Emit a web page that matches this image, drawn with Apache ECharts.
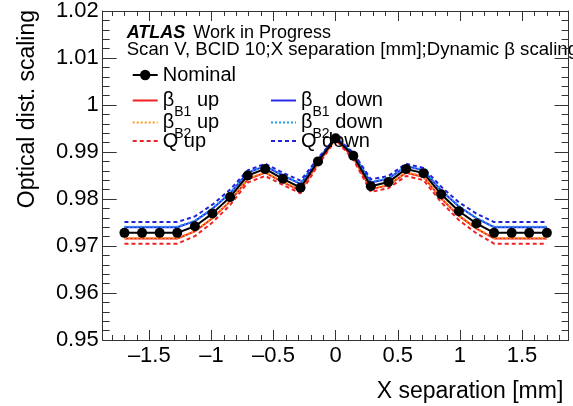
<!DOCTYPE html>
<html>
<head>
<meta charset="utf-8">
<script src="https://cdn.jsdelivr.net/npm/echarts@6/dist/echarts.min.js"></script>
<style>
html,body{margin:0;padding:0;background:#fff;}
#c{width:573px;height:406px;}
</style>
</head>
<body>
<div id="c"></div>
<script>
// X separation [mm] of the scan points
const xs = [-1.700,-1.558,-1.417,-1.275,-1.133,-0.992,-0.850,-0.708,-0.567,-0.425,-0.283,-0.142,0,
            0.142,0.283,0.425,0.567,0.708,0.850,0.992,1.133,1.275,1.417,1.558,1.700];
const nominal = [0.9728,0.9728,0.9728,0.9728,0.9742,0.9769,0.9804,0.9850,0.9864,0.9843,0.9824,0.9880,0.9929,
                 0.9892,0.9827,0.9836,0.9864,0.9855,0.9810,0.9774,0.9748,0.9728,0.9728,0.9728,0.9728];
const betaB1Up = [0.9716,0.9716,0.9716,0.9716,0.9731,0.9759,0.9795,0.9842,0.9856,0.9836,0.9818,0.9876,0.9928,
                  0.9888,0.9821,0.9829,0.9856,0.9847,0.9801,0.9764,0.9737,0.9716,0.9716,0.9716,0.9716];
const betaB1Down = [0.9740,0.9740,0.9740,0.9740,0.9753,0.9779,0.9812,0.9856,0.9870,0.9850,0.9832,0.9884,0.9930,
                    0.9896,0.9835,0.9843,0.9870,0.9861,0.9818,0.9784,0.9759,0.9740,0.9740,0.9740,0.9740];
const betaB2Up = [0.9717,0.9717,0.9717,0.9717,0.9732,0.9760,0.9796,0.9843,0.9857,0.9837,0.9819,0.9877,0.9928,
                  0.9889,0.9822,0.9830,0.9857,0.9848,0.9802,0.9765,0.9738,0.9717,0.9717,0.9717,0.9717];
const betaB2Down = [0.9741,0.9741,0.9741,0.9741,0.9754,0.9780,0.9813,0.9857,0.9871,0.9851,0.9833,0.9885,0.9930,
                    0.9897,0.9836,0.9844,0.9871,0.9862,0.9819,0.9785,0.9760,0.9741,0.9741,0.9741,0.9741];
const qUp = [0.9705,0.9705,0.9705,0.9705,0.9721,0.9750,0.9787,0.9835,0.9849,0.9830,0.9812,0.9872,0.9926,
             0.9884,0.9815,0.9823,0.9849,0.9840,0.9793,0.9755,0.9727,0.9705,0.9705,0.9705,0.9705];
const qDown = [0.9751,0.9751,0.9751,0.9751,0.9763,0.9788,0.9820,0.9861,0.9875,0.9856,0.9839,0.9887,0.9931,
               0.9899,0.9842,0.9849,0.9875,0.9866,0.9826,0.9793,0.9769,0.9751,0.9751,0.9751,0.9751];

// tick values
const xMajor = [-1.5,-1,-0.5,0,0.5,1,1.5];
const yMajor = [0.95,0.96,0.97,0.98,0.99,1.00,1.01,1.02];
const xMinor = [];
for (let i = -18; i <= 18; i++) xMinor.push(i / 10);
const yMinor = [];
for (let i = 475; i <= 510; i++) yMinor.push(i / 500);

const FONT = '"Liberation Sans", Arial, Helvetica, sans-serif';
const AX = '#333';

const chart = echarts.init(document.getElementById('c'), null, {renderer: 'canvas'});

function pairs(ys) { return xs.map((x, i) => [x, ys[i]]); }

function lineSeries(name, ys, color, type, z) {
  return {
    name: name, type: 'line', data: pairs(ys), symbol: 'none',
    lineStyle: {color: color, width: 2, type: type},
    itemStyle: {color: color},
    z: z, animation: false, clip: false
  };
}

const xBase = {type: 'value', min: -1.875, max: 1.875, splitLine: {show: false}};
const yBase = {type: 'value', min: 0.95, max: 1.02, splitLine: {show: false}};

const rich = {
  t: {fontSize: 20, lineHeight: 20, fontFamily: FONT, color: '#000'},
  s: {fontSize: 14, lineHeight: 20, fontFamily: FONT, color: '#000', padding: [24, 0, 0, 0]}
};
const labels = {
  'Nominal': '{t|Nominal}',
  'betaB1 up': '{t|β}{s|B1}{t| up}',
  'betaB2 up': '{t|β}{s|B2}{t| up}',
  'Q up': '{t|Q up}',
  'betaB1 down': '{t|β}{s|B1}{t| down}',
  'betaB2 down': '{t|β}{s|B2}{t| down}',
  'Q down': '{t|Q down}'
};
const hide = {opacity: 0};
function legendAt(name, left, top, itemStyle) {
  const item = {name: name};
  if (itemStyle) item.itemStyle = itemStyle;
  return {
    orient: 'vertical', itemWidth: 25, itemHeight: 13, padding: 0,
    left: left, top: top, selectedMode: false,
    formatter: n => labels[n],
    textStyle: {rich: rich, fontSize: 20, lineHeight: 20, fontFamily: FONT, color: '#000'},
    data: [item]
  };
}

function axisLineOn() { return {show: true, onZero: false, lineStyle: {color: AX, width: 1}}; }
const axisLineOff = {show: false, onZero: false};

chart.setOption({
  animation: false,
  backgroundColor: '#fff',
  grid: {left: 102.7, right: 4.4, top: 10, bottom: 66},
  xAxis: [
    Object.assign({}, xBase, {position: 'bottom',
      axisLine: axisLineOn(),
      axisTick: {show: true, inside: true, length: 10, customValues: xMajor, lineStyle: {color: AX}},
      axisLabel: {show: true, customValues: xMajor, margin: 5, fontSize: 22, fontFamily: FONT, color: '#000',
        formatter: v => (v < 0 ? '\u2013' + String(Math.abs(v)) : String(v))}}),
    Object.assign({}, xBase, {position: 'bottom',
      axisLine: axisLineOff,
      axisTick: {show: true, inside: true, length: 5, customValues: xMinor, lineStyle: {color: AX}},
      axisLabel: {show: false}}),
    Object.assign({}, xBase, {position: 'top',
      axisLine: axisLineOn(),
      axisTick: {show: true, inside: true, length: 10, customValues: xMajor, lineStyle: {color: AX}},
      axisLabel: {show: false}}),
    Object.assign({}, xBase, {position: 'top',
      axisLine: axisLineOff,
      axisTick: {show: true, inside: true, length: 5, customValues: xMinor, lineStyle: {color: AX}},
      axisLabel: {show: false}})
  ],
  yAxis: [
    Object.assign({}, yBase, {position: 'left',
      axisLine: axisLineOn(),
      axisTick: {show: true, inside: true, length: 14, customValues: yMajor, lineStyle: {color: AX}},
      axisLabel: {show: true, customValues: yMajor, margin: 4, fontSize: 22, fontFamily: FONT, color: '#000',
        formatter: v => String(+(+v).toFixed(2))}}),
    Object.assign({}, yBase, {position: 'left',
      axisLine: axisLineOff,
      axisTick: {show: true, inside: true, length: 7, customValues: yMinor, lineStyle: {color: AX}},
      axisLabel: {show: false}}),
    Object.assign({}, yBase, {position: 'right',
      axisLine: axisLineOn(),
      axisTick: {show: true, inside: true, length: 14, customValues: yMajor, lineStyle: {color: AX}},
      axisLabel: {show: false}}),
    Object.assign({}, yBase, {position: 'right',
      axisLine: axisLineOff,
      axisTick: {show: true, inside: true, length: 7, customValues: yMinor, lineStyle: {color: AX}},
      axisLabel: {show: false}})
  ],
  legend: [
    legendAt('Nominal', 131.7, 65, null),
    legendAt('betaB1 up', 131.7, 81.5, hide),
    legendAt('betaB2 up', 131.7, 103.5, hide),
    legendAt('Q up', 131.7, 131, hide),
    legendAt('betaB1 down', 270, 81.5, hide),
    legendAt('betaB2 down', 270, 103.5, hide),
    legendAt('Q down', 270, 131, hide)
  ],
  series: [
    lineSeries('betaB1 up', betaB1Up, '#ee2222', 'solid', 2),
    lineSeries('betaB1 down', betaB1Down, '#2a2ae8', 'solid', 2),
    lineSeries('betaB2 up', betaB2Up, '#ff9a1a', [2, 2], 3),
    lineSeries('betaB2 down', betaB2Down, '#1e9ff0', [2, 2], 3),
    lineSeries('Q up', qUp, '#ee2222', [4, 3], 3),
    lineSeries('Q down', qDown, '#2222dd', [4, 3], 3),
    {
      name: 'Nominal', type: 'line', data: pairs(nominal),
      symbol: 'circle', symbolSize: 10, showSymbol: true,
      lineStyle: {color: '#000', width: 2}, itemStyle: {color: '#000'},
      z: 5, animation: false, clip: false
    }
  ],
  graphic: [
    {type: 'text', x: 126.7, y: 33, style: {text: 'ATLAS', fontStyle: 'italic', fontWeight: 'bold',
      fontSize: 18, fontFamily: FONT, fill: '#000', verticalAlign: 'middle'}},
    {type: 'text', x: 193.3, y: 33, style: {text: 'Work in Progress',
      fontSize: 18, fontFamily: FONT, fill: '#000', verticalAlign: 'middle'}},
    {type: 'text', x: 126.7, y: 49.5, style: {text: 'Scan V, BCID 10;X separation [mm];Dynamic β scaling',
      fontSize: 18.6, fontFamily: FONT, fill: '#000', verticalAlign: 'middle'}},
    {type: 'text', x: 563.3, y: 392, style: {text: 'X separation [mm]', fontSize: 23, fontFamily: FONT,
      fill: '#000', align: 'right', verticalAlign: 'middle'}},
    {type: 'text', x: 27.5, y: 10, rotation: Math.PI / 2, style: {text: 'Optical dist. scaling', fontSize: 23,
      fontFamily: FONT, fill: '#000', align: 'right', verticalAlign: 'middle'}}
  ]
});
</script>
</body>
</html>
